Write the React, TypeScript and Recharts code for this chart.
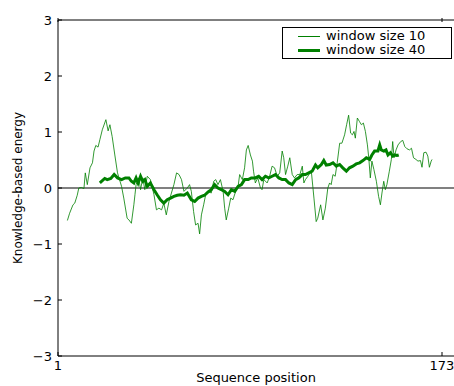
import React from 'react';
import { LineChart, Line, XAxis, YAxis, ReferenceLine, Legend } from 'recharts';

// window size 10 profile (sequence position, energy)
const posW10 = [
  5.2, 6.2, 7.7, 8.5, 9.6, 10.3, 11.4, 12.6, 13.2, 14.1, 15.3, 16.4, 17.1, 17.9, 18.9, 19.7, 20.8, 22.4, 23.4, 24.2,
  25.2, 26.4, 27.6, 29.4, 30.4, 31.9, 32.7, 33.8, 34.9, 35.4, 35.9, 37.1, 37.9, 38.9, 39.8, 40.9, 42.3, 43.9, 45.0, 46.1,
  47.3, 48.3, 49.4, 50.6, 51.7, 52.8, 54.0, 55.1, 56.2, 57.3, 58.8, 59.8, 60.6, 61.6, 62.5, 63.6, 64.3, 65.1, 66.1, 67.0,
  68.1, 69.5, 70.6, 71.5, 72.5, 73.6, 74.8, 75.5, 76.2, 77.3, 78.2, 79.2, 80.4, 81.5, 82.2, 83.4, 84.4, 85.2, 86.0, 87.0,
  87.9, 88.4, 89.2, 90.3, 91.5, 92.2, 93.0, 94.5, 95.6, 96.7, 97.8, 99.0, 100.1, 101.2, 101.9, 102.7, 103.7, 104.6, 105.7, 106.7,
  107.9, 109.1, 110.2, 110.9, 111.6, 112.7, 113.6, 114.3, 115.4, 116.4, 117.1, 118.4, 119.4, 120.5, 121.6, 122.4, 123.1, 123.9, 124.9, 125.8,
  126.9, 127.9, 129.1, 130.0, 130.9, 131.8, 132.6, 133.3, 133.9, 134.8, 135.7, 136.6, 137.5, 138.4, 139.3, 139.9, 140.6, 141.3, 142.2, 143.3,
  144.3, 145.1, 145.8, 146.6, 147.3, 148.0, 149.1, 150.0, 150.6, 151.2, 152.1, 153.0, 154.2, 155.1, 156.0, 157.0, 158.1, 159.0, 159.9, 161.0,
  161.9, 163.0, 163.7, 164.5, 165.5, 166.3, 167.0, 167.8, 168.2,
];
const energyW10 = [
  -0.58, -0.45, -0.3, -0.27, -0.13, 0, 0.01, -0.01, 0.27, 0.06, 0.36, 0.45, 0.66, 0.76, 0.73, 0.86, 1.04, 1.22, 1.02, 1.13,
  0.92, 0.59, 0.27, 0.03, -0.18, -0.54, -0.57, -0.63, -0.3, -0.12, 0.06, 0.18, -0.03, 0.18, -0.03, 0.21, 0.15, -0.12, -0.39, -0.36,
  -0.39, -0.27, -0.48, -0.24, -0.09, 0.06, 0.27, 0.24, 0.15, -0.06, 0, 0.06, -0.06, -0.42, -0.66, -0.63, -0.82, -0.48, -0.3, -0.12,
  -0.06, -0.09, 0.12, 0.15, 0.06, 0.15, -0.06, -0.36, -0.57, -0.36, -0.18, -0.21, -0.06, 0.03, 0.24, 0.15, 0.36, 0.68, 0.76, 0.59,
  0.48, 0.3, 0.09, 0.18, 0, -0.03, 0.15, 0.09, 0.21, 0.39, 0.36, 0.21, 0.27, 0.66, 0.54, 0.24, 0.39, 0.54, 0.24, 0.18,
  0.24, 0.24, 0.39, 0.09, 0.15, 0.21, 0.27, 0.27, -0.18, -0.6, -0.54, -0.3, -0.57, -0.36, 0, 0.09, 0.06, 0.24, 0.21, 0.45,
  0.8, 0.8, 0.95, 1.13, 1.3, 0.98, 0.95, 1.01, 0.89, 1.25, 1.19, 1.13, 1.16, 1.01, 0.77, 0.54, 0.18, 0.48, 0.33, 0.12,
  -0.15, -0.3, -0.09, 0.12, -0.03, 0.06, 0.3, 0.51, 0.83, 0.54, 0.68, 0.77, 0.83, 0.85, 0.74, 0.7, 0.68, 0.71, 0.54, 0.51,
  0.48, 0.49, 0.37, 0.63, 0.64, 0.57, 0.37, 0.48, 0.51,
];

// window size 40 profile
const posW40 = [
  19.7, 21.9, 23.0, 24.6, 26.1, 27.6, 29.4, 31.1, 32.7, 33.8, 34.9, 35.9, 36.8, 37.9, 38.9, 39.8, 40.9, 42.3, 43.9, 45.3,
  46.8, 48.3, 49.8, 51.3, 52.8, 54.3, 55.8, 57.3, 58.8, 60.6, 62.1, 63.6, 65.1, 66.5, 68.1, 69.5, 71.0, 72.5, 74.0, 75.5,
  77.0, 78.5, 80.0, 81.5, 83.0, 84.4, 86.0, 87.4, 89.2, 90.7, 92.2, 93.7, 95.2, 96.7, 98.2, 99.7, 101.2, 102.7, 104.2, 105.7,
  107.2, 108.6, 110.2, 111.6, 113.1, 114.6, 116.1, 117.1, 118.7, 119.8, 120.9, 122.4, 123.9, 125.4, 126.9, 128.3, 129.9, 131.3, 132.8, 134.3,
  135.8, 137.3, 138.8, 140.3, 141.3, 142.5, 144.0, 144.8, 145.5, 146.6, 147.6, 148.5, 149.6, 150.6, 151.5, 152.5, 153.3,
];
const energyW40 = [
  0.09, 0.17, 0.15, 0.17, 0.24, 0.18, 0.15, 0.18, 0.18, 0.12, 0.09, 0.18, 0.09, 0.21, 0.12, 0.15, 0.03, 0.09, -0.03, -0.12,
  -0.21, -0.27, -0.21, -0.18, -0.15, -0.13, -0.12, -0.13, -0.09, -0.21, -0.24, -0.18, -0.15, -0.13, -0.07, -0.03, 0.06, 0, -0.03, -0.06,
  -0.12, -0.03, -0.06, 0.03, 0.06, 0.15, 0.15, 0.18, 0.18, 0.21, 0.15, 0.21, 0.18, 0.21, 0.24, 0.18, 0.15, 0.15, 0.09, 0.06,
  0.15, 0.18, 0.24, 0.24, 0.27, 0.3, 0.41, 0.36, 0.42, 0.49, 0.41, 0.42, 0.45, 0.39, 0.42, 0.36, 0.3, 0.36, 0.39, 0.43,
  0.45, 0.49, 0.54, 0.51, 0.59, 0.66, 0.66, 0.77, 0.68, 0.66, 0.68, 0.59, 0.63, 0.57, 0.59, 0.58, 0.59,
];

const xTicks = [1, 173];
const yTicks = [-3, -2, -1, 0, 1, 2, 3];
const seriesNames = ['window size 10', 'window size 40'];

const dataW10 = posW10.map((p, i) => ({ pos: p, energy: energyW10[i] }));
const dataW40 = posW40.map((p, i) => ({ pos: p, energy: energyW40[i] }));

const FONT = '"DejaVu Sans", sans-serif';
const GREEN = '#008000';
const TICK_LEN = 4;

const fmt = (v: number) => (v < 0 ? `\u2212${Math.abs(v)}` : `${v}`);

const LeftTick = (props: any) => {
  const { x, y, payload } = props;
  return (
    <g>
      <line x1={x + 6} x2={x + 6 + TICK_LEN} y1={y} y2={y} stroke="#000" />
      <text x={x} y={y} dy={5} textAnchor="end" fontSize={13} fontFamily={FONT} fill="#000">
        {fmt(payload.value)}
      </text>
    </g>
  );
};

const BottomTick = (props: any) => {
  const { x, y, payload } = props;
  return (
    <g>
      <line x1={x} x2={x} y1={y - 3} y2={y - 3 - TICK_LEN} stroke="#000" />
      <text x={x} y={y} dy={11} textAnchor="middle" fontSize={13} fontFamily={FONT} fill="#000">
        {payload.value}
      </text>
    </g>
  );
};

const TopTick = (props: any) => {
  const { x, y } = props;
  return <line x1={x} x2={x} y1={y} y2={y + TICK_LEN} stroke="#000" />;
};

const LegendBox = () => (
  <div
    style={{
      border: '1px solid #000',
      background: '#fff',
      padding: '1px 0 1px 15px',
      fontFamily: FONT,
      fontSize: 13,
      lineHeight: '14px',
      color: '#000',
    }}
  >
    {seriesNames.map((n, i) => (
      <div key={n} style={{ display: 'flex', alignItems: 'center' }}>
        <span
          style={{
            display: 'inline-block',
            width: 22,
            height: 0,
            borderTop: `${i === 0 ? 1 : 3}px solid ${GREEN}`,
            marginRight: 6,
          }}
        />
        <span>{n}</span>
      </div>
    ))}
  </div>
);

export default function App() {
  return (
    <div style={{ position: 'absolute', left: 0, top: 0 }}>
      <LineChart width={454} height={386} margin={{ top: 19, right: 0, bottom: 0, left: 0 }}>
        <XAxis
          xAxisId="bottom"
          dataKey="pos"
          type="number"
          domain={[1, 178]}
          ticks={xTicks}
          allowDataOverflow
          height={30}
          tickSize={0}
          tickMargin={3}
          tickLine={false}
          axisLine={{ stroke: '#000' }}
          tick={<BottomTick />}
          label={{ value: 'Sequence position', position: 'insideBottom', offset: 4, fontSize: 13, fontFamily: FONT, fill: '#000' }}
        />
        <XAxis
          xAxisId="top"
          orientation="top"
          dataKey="pos"
          type="number"
          domain={[1, 178]}
          ticks={xTicks}
          allowDataOverflow
          height={1}
          tickSize={0}
          tickLine={false}
          axisLine={{ stroke: '#000' }}
          tick={<TopTick />}
        />
        <YAxis
          type="number"
          domain={[-3, 3]}
          ticks={yTicks}
          width={58}
          tickSize={0}
          tickMargin={6}
          tickLine={false}
          axisLine={{ stroke: '#000' }}
          tick={<LeftTick />}
          label={{
            value: 'Knowledge-based energy',
            angle: -90,
            position: 'insideLeft',
            offset: 18,
            fontSize: 12,
            fontFamily: FONT,
            fill: '#000',
            style: { textAnchor: 'middle' },
          }}
        />
        <ReferenceLine xAxisId="bottom" y={0} stroke="#808080" strokeWidth={2} />
        <Line
          xAxisId="bottom"
          data={dataW10}
          dataKey="energy"
          name={seriesNames[0]}
          stroke={GREEN}
          strokeOpacity={0.8}
          strokeWidth={1}
          dot={false}
          isAnimationActive={false}
        />
        <Line
          xAxisId="bottom"
          data={dataW40}
          dataKey="energy"
          name={seriesNames[1]}
          stroke={GREEN}
          strokeWidth={3}
          dot={false}
          isAnimationActive={false}
        />
        <Legend
          verticalAlign="middle"
          align="center"
          layout="horizontal"
          content={<LegendBox />}
          wrapperStyle={{ top: 27, left: 282, width: 170 }}
        />
      </LineChart>
    </div>
  );
}
